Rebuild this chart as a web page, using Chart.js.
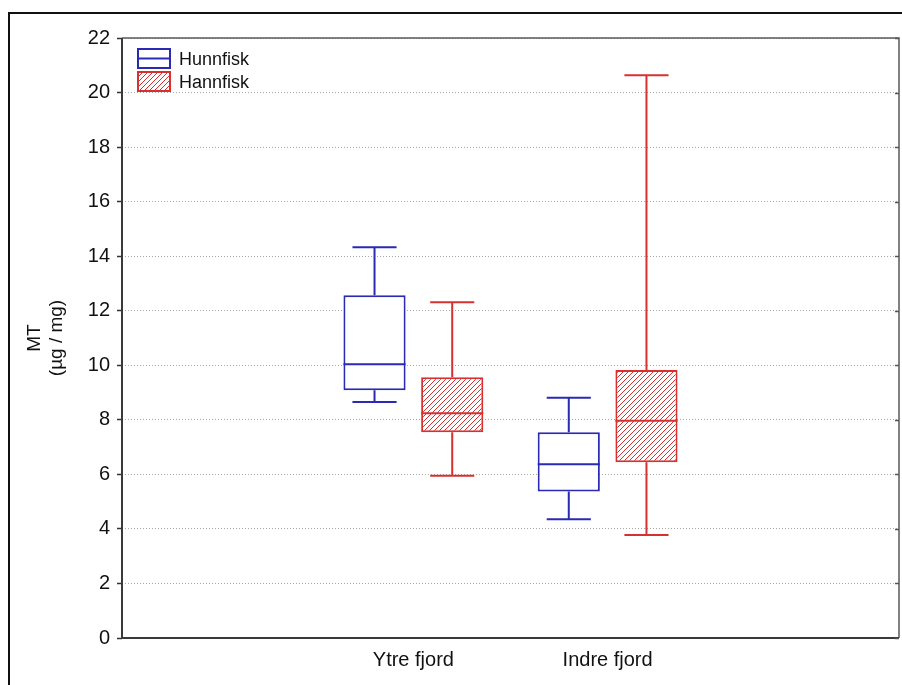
<!DOCTYPE html>
<html>
<head>
<meta charset="utf-8">
<script src="https://cdn.jsdelivr.net/npm/chart.js@4.4.1/dist/chart.umd.min.js"></script>
<style>
html,body{margin:0;padding:0;background:#fff;}
#wrap{width:902px;height:685px;position:relative;}
canvas{display:block;}
</style>
</head>
<body>
<div id="wrap"><canvas id="c" width="902" height="685"></canvas></div>
<script>
// ---- data ----
const groups = ['Ytre fjord', 'Indre fjord'];
const categories = ['', 'Ytre fjord', 'Indre fjord', ''];
const seriesNames = ['Hunnfisk', 'Hannfisk'];

const hunnfiskMin    = [8.65, 4.35];
const hunnfiskQ1     = [9.08, 5.37];
const hunnfiskMedian = [10.04, 6.37];
const hunnfiskQ3     = [12.57, 7.54];
const hunnfiskMax    = [14.33, 8.81];

const hannfiskMin    = [5.95, 3.78];
const hannfiskQ1     = [7.54, 6.44];
const hannfiskMedian = [8.24, 7.97];
const hannfiskQ3     = [9.56, 9.83];
const hannfiskMax    = [12.31, 20.63];

const yTicks = [0, 2, 4, 6, 8, 10, 12, 14, 16, 18, 20, 22];
const yTitle = ['MT', '(\u00b5g / mg)'];

// ---- styles ----
const BLUE = '#2a2ab4';
const RED = '#d83030';
const FONT = '"Liberation Sans", Arial, sans-serif';

function hatchPattern(color) {
  const s = 5;
  const c = document.createElement('canvas');
  c.width = s; c.height = s;
  const g = c.getContext('2d');
  g.fillStyle = '#fff';
  g.fillRect(0, 0, s, s);
  g.strokeStyle = color;
  g.lineWidth = 1;
  g.beginPath();
  g.moveTo(0, s); g.lineTo(s, 0);
  g.moveTo(-1, 1); g.lineTo(1, -1);
  g.moveTo(s - 1, s + 1); g.lineTo(s + 1, s - 1);
  g.stroke();
  return g.createPattern(c, 'repeat');
}
const ctx0 = document.getElementById('c').getContext('2d');
const redHatch = hatchPattern(RED);

function boxData(q1, q3) {
  return categories.map(c => {
    const i = groups.indexOf(c);
    return i < 0 ? null : [q1[i], q3[i]];
  });
}

const datasets = [
  {
    label: seriesNames[0],
    data: boxData(hunnfiskQ1, hunnfiskQ3),
    backgroundColor: '#ffffff',
    borderColor: BLUE,
    borderWidth: 2,
    borderSkipped: false,
    stats: {min: hunnfiskMin, median: hunnfiskMedian, max: hunnfiskMax, q1: hunnfiskQ1, q3: hunnfiskQ3}
  },
  {
    label: seriesNames[1],
    data: boxData(hannfiskQ1, hannfiskQ3),
    backgroundColor: redHatch,
    borderColor: RED,
    borderWidth: 2,
    borderSkipped: false,
    stats: {min: hannfiskMin, median: hannfiskMedian, max: hannfiskMax, q1: hannfiskQ1, q3: hannfiskQ3}
  }
];

// whiskers + medians drawn from the library's scales and bar elements
const whiskerPlugin = {
  id: 'whiskers',
  afterDatasetsDraw(chart) {
    const ctx = chart.ctx;
    const y = chart.scales.y;
    chart.data.datasets.forEach((ds, di) => {
      const meta = chart.getDatasetMeta(di);
      meta.data.forEach((el, j) => {
        const gi = groups.indexOf(categories[j]);
        if (gi < 0 || ds.data[j] == null) return;
        const st = ds.stats;
        const x = el.x, w = el.width;
        const capW = w * 0.71;
        const yMin = y.getPixelForValue(st.min[gi]);
        const yQ1 = y.getPixelForValue(st.q1[gi]);
        const yMed = y.getPixelForValue(st.median[gi]);
        const yQ3 = y.getPixelForValue(st.q3[gi]);
        const yMax = y.getPixelForValue(st.max[gi]);
        ctx.save();
        ctx.strokeStyle = ds.borderColor;
        ctx.lineWidth = 2;
        ctx.beginPath();
        ctx.moveTo(x, yQ3); ctx.lineTo(x, yMax);
        ctx.moveTo(x - capW / 2, yMax); ctx.lineTo(x + capW / 2, yMax);
        ctx.moveTo(x, yQ1); ctx.lineTo(x, yMin);
        ctx.moveTo(x - capW / 2, yMin); ctx.lineTo(x + capW / 2, yMin);
        ctx.moveTo(x - w / 2, yMed); ctx.lineTo(x + w / 2, yMed);
        ctx.stroke();
        ctx.restore();
      });
    });
  }
};

const framePlugin = {
  id: 'frame',
  beforeDraw(chart) {
    const ctx = chart.ctx;
    ctx.save();
    ctx.fillStyle = '#fff';
    ctx.fillRect(0, 0, chart.width, chart.height);
    ctx.strokeStyle = '#111';
    ctx.lineWidth = 2;
    ctx.beginPath();
    ctx.moveTo(9, chart.height);
    ctx.lineTo(9, 13);
    ctx.lineTo(chart.width, 13);
    ctx.stroke();
    ctx.restore();
  },
  afterDraw(chart) {
    const ctx = chart.ctx;
    const a = chart.chartArea;
    const y = chart.scales.y;
    ctx.save();
    // top & right
    ctx.strokeStyle = '#5a5a5a';
    ctx.lineWidth = 1.5;
    ctx.beginPath();
    ctx.moveTo(a.left, a.top); ctx.lineTo(a.right, a.top); ctx.lineTo(a.right, a.bottom);
    ctx.stroke();
    // left & bottom axis lines
    ctx.strokeStyle = '#3a3a3a';
    ctx.lineWidth = 2;
    ctx.beginPath();
    ctx.moveTo(a.left, a.top); ctx.lineTo(a.left, a.bottom); ctx.lineTo(a.right, a.bottom);
    ctx.stroke();
    // small tick marks on right border
    ctx.lineWidth = 1.5;
    ctx.strokeStyle = '#555';
    ctx.beginPath();
    yTicks.forEach(v => {
      const py = Math.round(y.getPixelForValue(v)) + 0.5;
      ctx.moveTo(a.right - 4, py); ctx.lineTo(a.right, py);
    });
    ctx.stroke();
    ctx.restore();
  }
};

const legendPlugin = {
  id: 'boxLegend',
  afterDraw(chart) {
    const ctx = chart.ctx;
    const a = chart.chartArea;
    const x0 = a.left + 16;
    const items = chart.data.datasets;
    ctx.save();
    items.forEach((ds, i) => {
      const top = a.top + 11 + i * 23;
      const w = 32, h = 19;
      ctx.fillStyle = ds.backgroundColor;
      ctx.fillRect(x0, top, w, h);
      ctx.strokeStyle = ds.borderColor;
      ctx.lineWidth = 2;
      ctx.strokeRect(x0, top, w, h);
      if (i === 0) {
        ctx.beginPath();
        ctx.moveTo(x0, top + h / 2); ctx.lineTo(x0 + w, top + h / 2);
        ctx.stroke();
      }
      ctx.fillStyle = '#111';
      ctx.font = '18px ' + FONT;
      ctx.textBaseline = 'alphabetic';
      ctx.textAlign = 'left';
      ctx.fillText(ds.label, x0 + 41, top + 16);
    });
    ctx.restore();
  }
};

new Chart(document.getElementById('c'), {
  type: 'bar',
  data: { labels: categories, datasets },
  plugins: [framePlugin, whiskerPlugin, legendPlugin],
  options: {
    responsive: false,
    animation: false,
    devicePixelRatio: 1,
    layout: { padding: { top: 38, right: 3, left: 0, bottom: 0 } },
    plugins: { legend: { display: false }, tooltip: { enabled: false } },
    datasets: { bar: { categoryPercentage: 0.8, barPercentage: 0.8 } },
    scales: {
      x: {
        type: 'category',
        offset: true,
        grid: { display: false, drawTicks: false },
        border: { display: false },
        ticks: { color: '#111', font: { family: FONT, size: 20 }, padding: 10, maxRotation: 0, autoSkip: false },
        afterFit(s) { s.height = 47; }
      },
      y: {
        min: 0, max: 22,
        afterBuildTicks(s) { s.ticks = yTicks.map(v => ({ value: v })); },
        ticks: { color: '#111', font: { family: FONT, size: 20 }, padding: 7 },
        grid: { color: '#a8a8a8', lineWidth: 1, drawTicks: true, tickLength: 5, tickColor: '#333', tickWidth: 1.5, tickBorderDash: [] },
        border: { display: false, dash: [1, 2] },
        title: { display: true, text: yTitle, color: '#111', font: { family: FONT, size: 19, lineHeight: 1.2 }, padding: { top: 23, bottom: 0 } },
        afterFit(s) { s.width = 122; }
      }
    }
  }
});
</script>
</body>
</html>
